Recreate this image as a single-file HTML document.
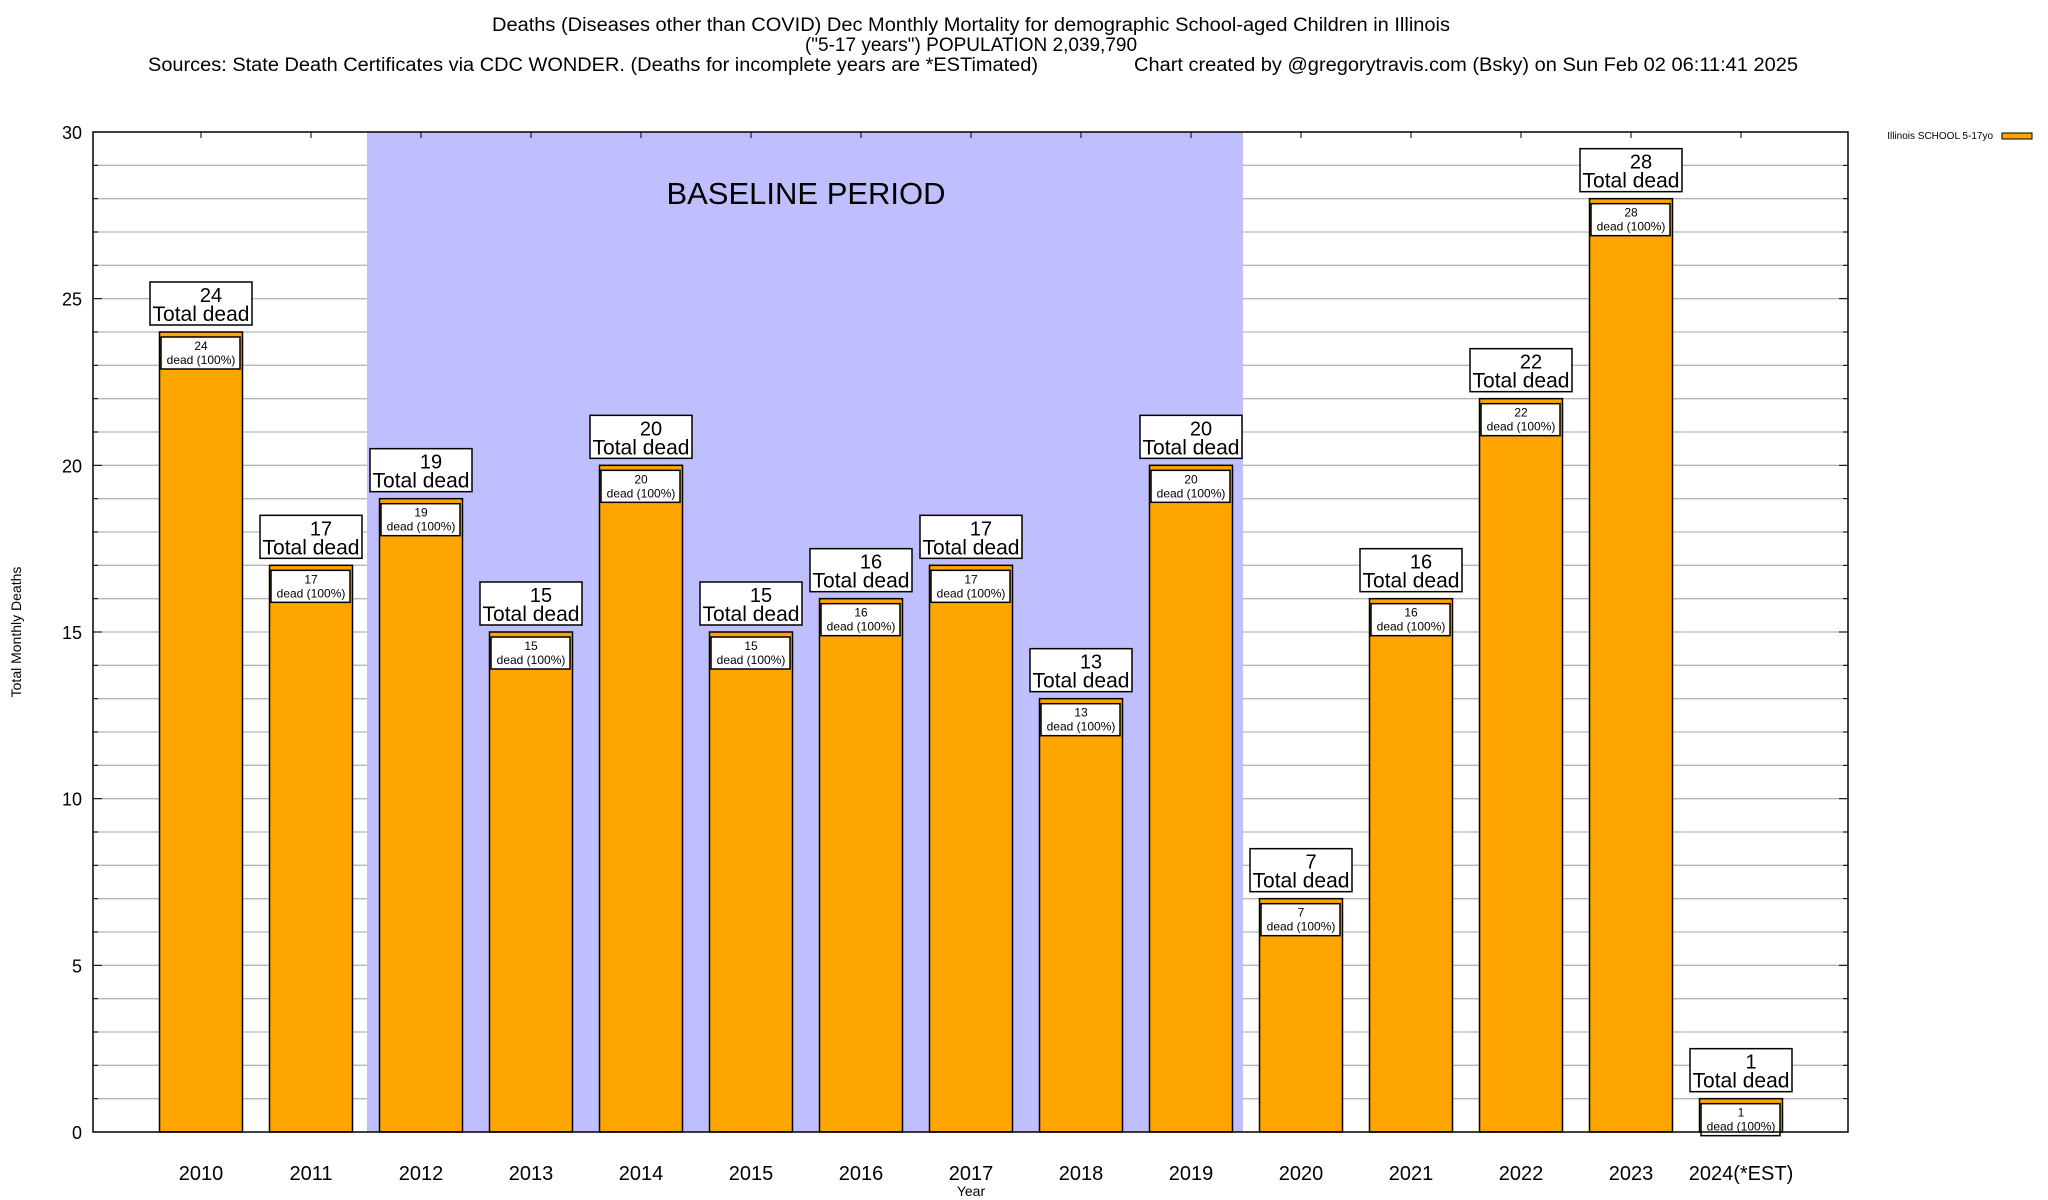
<!DOCTYPE html>
<html><head><meta charset="utf-8"><style>
html,body{margin:0;padding:0;background:#fff;}
svg{display:block;font-family:"Liberation Sans",Arial,sans-serif;}
</style></head><body>
<svg id="chart" width="2048" height="1200" viewBox="0 0 2048 1200" xmlns="http://www.w3.org/2000/svg">
<rect x="0" y="0" width="2048" height="1200" fill="#fff"/>
<g font-size="19" fill="#000">
<text x="971" y="31" text-anchor="middle" textLength="958" lengthAdjust="spacingAndGlyphs">Deaths (Diseases other than COVID) Dec Monthly Mortality for demographic School-aged Children in Illinois</text>
<text x="971" y="51" text-anchor="middle">("5-17 years") POPULATION 2,039,790</text>
<text x="148" y="71" textLength="890" lengthAdjust="spacingAndGlyphs">Sources: State Death Certificates via CDC WONDER. (Deaths for incomplete years are *ESTimated)</text>
<text x="1134" y="71" textLength="664" lengthAdjust="spacingAndGlyphs">Chart created by @gregorytravis.com (Bsky) on Sun Feb 02 06:11:41 2025</text>
</g>
<g id="grid"></g>
<rect x="367" y="132" width="876" height="1000" fill="#bfbfff"/>
<text x="806" y="204" font-size="31" text-anchor="middle">BASELINE PERIOD</text>
<g id="bars"></g>
<rect x="93" y="132" width="1755" height="1000" fill="none" stroke="#000" stroke-width="1.5"/>
<g id="axes"></g>
<text x="971" y="1196" font-size="14" text-anchor="middle">Year</text>
<text transform="translate(21,632) rotate(-90)" font-size="14" text-anchor="middle">Total Monthly Deaths</text>
<g>
<text x="1993" y="139" font-size="10" text-anchor="end">Illinois SCHOOL 5-17yo</text>
<rect x="2002" y="133" width="30" height="6" fill="#ffa500" stroke="#000" stroke-width="1"/>
</g>
</svg>
<script>
const categories = ["2010","2011","2012","2013","2014","2015","2016","2017","2018","2019","2020","2021","2022","2023","2024(*EST)"];
const deaths = [24,17,19,15,20,15,16,17,13,20,7,16,22,28,1];
const yTicks = [0,5,10,15,20,25,30];

const NS="http://www.w3.org/2000/svg";
const pL=93,pR=1848,pT=132,pB=1132,yMax=30;
const x0=201,step=110,barW=83;
function xPos(i){return x0+i*step;}
function yPos(v){return pB-(v/yMax)*(pB-pT);}
function mk(tag,attrs,parent,text){const e=document.createElementNS(NS,tag);for(const k in attrs)e.setAttribute(k,attrs[k]);if(text!==undefined)e.textContent=text;parent.appendChild(e);return e;}

const grid=document.getElementById('grid');
for(let v=1;v<yMax;v++){
  const l=mk('line',{x1:pL,x2:pR,y1:yPos(v),y2:yPos(v),stroke:'#b8b8b8','stroke-width':1.3},grid);
  
  
}

const bars=document.getElementById('bars');
deaths.forEach((d,i)=>{
  const cx=xPos(i),yt=yPos(d);
  const g=mk('g',{},bars);
  
  
  const r=mk('rect',{x:cx-barW/2,y:yt,width:barW,height:pB-yt,fill:'#ffa500',stroke:'#000','stroke-width':1.5},g);
  
  
  const ib=mk('rect',{x:cx-barW/2+1.5,y:yt+5,width:barW-4,height:32,fill:'#fff',stroke:'#000','stroke-width':1.5},g);
  
  
  const t1=mk('text',{x:cx,y:yt+18,'font-size':12,'text-anchor':'middle'},g,String(d));
  
  
  const t2=mk('text',{x:cx,y:yt+32,'font-size':12,'text-anchor':'middle'},g,'dead (100%)');
  
  
  const ob=mk('rect',{x:cx-51,y:yt-50,width:102,height:43,fill:'#fff',stroke:'#000','stroke-width':1.5},g);
  
  
  const t3=mk('text',{x:cx+10,y:yt-30,'font-size':20,'text-anchor':'middle'},g,String(d));
  
  
  const t4=mk('text',{x:cx,y:yt-11,'font-size':21,'text-anchor':'middle'},g,'Total dead');
  
  
});

const axes=document.getElementById('axes');
yTicks.forEach(v=>{
  const t=mk('text',{x:82,y:yPos(v)+7,'font-size':18,'text-anchor':'end'},axes,String(v));
  
  
});
for(let v=1;v<yMax;v++){
  const w=(v%5===0)?9:5;
  mk('line',{x1:pL,x2:pL+w,y1:yPos(v),y2:yPos(v),stroke:'#000','stroke-width':1},axes);
  mk('line',{x1:pR-w,x2:pR,y1:yPos(v),y2:yPos(v),stroke:'#000','stroke-width':1},axes);
}
categories.forEach((c,i)=>{
  mk('line',{x1:xPos(i),x2:xPos(i),y1:pT,y2:pT+6,stroke:'#000','stroke-width':1},axes);
  const t=mk('text',{x:xPos(i),y:1180,'font-size':20,'text-anchor':'middle'},axes,c);
  
  
});
</script>
</body></html>
